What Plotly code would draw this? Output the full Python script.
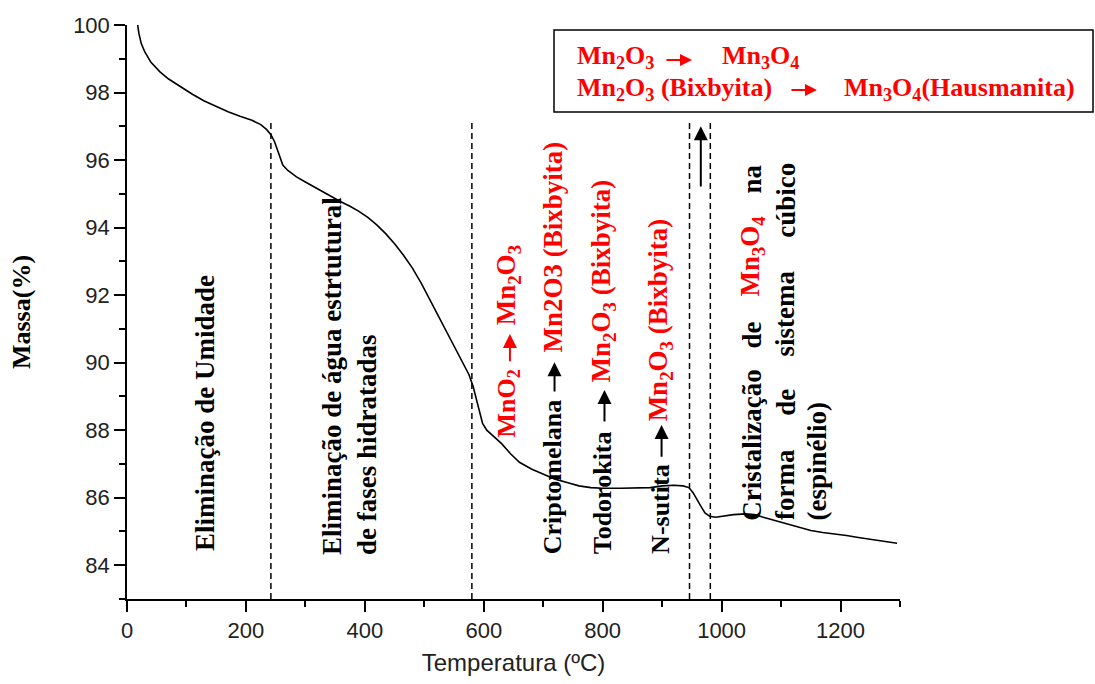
import plotly.graph_objects as go

# ---- data ----
temperature = [18, 20, 24, 30, 40, 55, 70, 90, 110, 130, 150, 170, 190, 210, 225, 235, 242, 248, 255, 262,
               270, 285, 300, 320, 340, 358, 375, 390, 405, 420, 435, 450, 465, 480, 495, 510, 525, 540, 555,
               565, 575, 582, 588, 593, 598, 605, 615, 630, 645, 660, 680, 700, 720, 740, 760, 780, 800, 830,
               860, 880, 900, 920, 935, 945, 952, 958, 965, 972, 980, 990, 1000, 1020, 1040, 1055, 1070, 1090,
               1110, 1130, 1150, 1170, 1190, 1210, 1230, 1250, 1270, 1295]
mass = [100.0, 99.75, 99.45, 99.2, 98.9, 98.62, 98.4, 98.17, 97.95, 97.75, 97.58, 97.43, 97.3, 97.18, 97.05,
        96.9, 96.75, 96.55, 96.2, 95.85, 95.7, 95.5, 95.35, 95.15, 94.95, 94.78, 94.63, 94.48, 94.3, 94.08,
        93.82, 93.52, 93.18, 92.8, 92.35, 91.85, 91.35, 90.85, 90.35, 90.0, 89.65, 89.3, 88.9, 88.5, 88.2,
        88.0, 87.85, 87.6, 87.3, 87.05, 86.85, 86.7, 86.55, 86.45, 86.35, 86.3, 86.28, 86.28, 86.28, 86.3,
        86.35, 86.37, 86.35, 86.3, 86.15, 85.95, 85.75, 85.55, 85.45, 85.42, 85.45, 85.5, 85.52, 85.5,
        85.42, 85.32, 85.22, 85.12, 85.03, 84.97, 84.93, 84.88, 84.82, 84.77, 84.72, 84.65]

boundary_temps = [242, 580, 946, 981]
boundary_top = 97.2

x_ticks = [0, 200, 400, 600, 800, 1000, 1200]
y_ticks = [84, 86, 88, 90, 92, 94, 96, 98, 100]

RED = "#FF0000"
SERIF = "Liberation Serif, Times New Roman, serif"
SANS = "Liberation Sans, Arial, sans-serif"

fig = go.Figure()
fig.add_trace(go.Scatter(x=temperature, y=mass, mode="lines",
                         line=dict(color="black", width=1.6), showlegend=False, hoverinfo="skip"))

for t in boundary_temps:
    fig.add_shape(type="line", xref="x", yref="y", x0=t, x1=t, y0=83, y1=boundary_top,
                  line=dict(color="black", width=1.5, dash="6px,4px"))

# vertical arrow between the last two boundaries
fig.add_annotation(x=965, y=97.0, ax=965, ay=95.17, xref="x", yref="y", axref="x", ayref="y",
                   text="", showarrow=True, arrowhead=2, arrowsize=1.4, arrowwidth=2, arrowcolor="black")

# legend-like box
fig.add_shape(type="rect", xref="paper", yref="paper", x0=0.5524, x1=1.2497, y0=0.8484, y1=0.9913,
              line=dict(color="black", width=1.5), fillcolor="white", layer="above")

box_font = dict(family=SERIF, size=26, color=RED)


def box_text(x, y, text):
    fig.add_annotation(xref="paper", yref="paper", x=x, y=y, xanchor="left", yanchor="middle",
                       showarrow=False, font=box_font, text="<b>" + text + "</b>")


def box_arrow(x, y):
    fig.add_annotation(xref="paper", yref="paper", x=x, y=y, ax=-27, ay=0, text="", showarrow=True,
                       arrowhead=2, arrowsize=1.2, arrowwidth=2, arrowcolor=RED)


box_text(0.5796, 0.944, "Mn<sub>2</sub>O<sub>3</sub>")
box_arrow(0.7309, 0.939)
box_text(0.7671, 0.944, "Mn<sub>3</sub>O<sub>4</sub>")
box_text(0.5796, 0.888, "Mn<sub>2</sub>O<sub>3</sub> (Bixbyita)")
box_arrow(0.8926, 0.8868)
box_text(0.925, 0.888, "Mn<sub>3</sub>O<sub>4</sub>(Hausmanita)")


def vtext(x, y, text, color="black", size=27):
    fig.add_annotation(x=x, y=y, xref="x", yref="y", text="<b>" + text + "</b>", textangle=-90,
                       showarrow=False, xanchor="center", yanchor="bottom", align="left",
                       font=dict(family=SERIF, size=size, color=color))


def varrow(x, tail, head, color="black"):
    fig.add_annotation(x=x, y=head, ax=x, ay=tail, xref="x", yref="y", axref="x", ayref="y",
                       text="", showarrow=True, arrowhead=2, arrowsize=1.4, arrowwidth=2,
                       arrowcolor=color)


vtext(131, 84.36, "Eliminação de Umidade")
vtext(373, 84.24, "Eliminação de água estrtutural<br>de fases hidratadas")

vtext(641, 87.73, "MnO<sub>2</sub>", RED, 26)
varrow(644, 90.0, 90.85, RED)
vtext(641, 91.05, "Mn<sub>2</sub>O<sub>3</sub>", RED)

vtext(716, 84.27, "Criptomelana", size=26)
varrow(719, 89.10, 90.01)
vtext(716, 90.25, "Mn2O3 (Bixbyita)", RED)

vtext(800, 84.27, "Todorokita", size=26)
varrow(803, 88.21, 89.19)
vtext(800, 89.36, "Mn<sub>2</sub>O<sub>3</sub> (Bixbyita)", RED)

vtext(896, 84.27, "N-sutita", size=26)
varrow(899, 87.17, 88.15)
vtext(896, 88.21, "Mn<sub>2</sub>O<sub>3</sub> (Bixbyita)", RED)

# justified block "Cristalização de Mn3O4 na / forma de sistema cúbico / (espinélio)"
vtext(1051, 85.27, "Cristalização")
vtext(1051, 90.37, "de")
vtext(1051, 91.91, "Mn<sub>3</sub>O<sub>4</sub>", RED)
vtext(1051, 94.96, "na")
vtext(1107, 85.27, "forma")
vtext(1107, 88.36, "de")
vtext(1107, 90.13, "sistema")
vtext(1107, 93.63, "cúbico")
vtext(1160, 85.27, "(espinélio)")

fig.update_layout(
    width=1095, height=684,
    margin=dict(l=127, r=195, t=25, b=85),
    paper_bgcolor="white", plot_bgcolor="white",
    font=dict(family=SANS, color="black"),
    xaxis=dict(range=[0, 1300], tickvals=x_ticks, ticks="outside", ticklen=11, tickwidth=1.5,
               tickcolor="black", showline=True, linecolor="black", linewidth=1.5, showgrid=False,
               zeroline=False, tickfont=dict(family=SANS, size=22, color="#222"),
               minor=dict(dtick=100, tick0=0, ticks="outside", ticklen=6, tickwidth=1.5, tickcolor="black"),
               title=dict(text="Temperatura (ºC)", font=dict(family=SANS, size=24, color="#222"), standoff=12)),
    yaxis=dict(range=[83, 100], tickvals=y_ticks, ticks="outside", ticklen=11, tickwidth=1.5,
               tickcolor="black", showline=True, linecolor="black", linewidth=1.5, showgrid=False,
               zeroline=False, tickfont=dict(family=SANS, size=22, color="#222"),
               minor=dict(dtick=1, tick0=83, ticks="outside", ticklen=6, tickwidth=1.5, tickcolor="black"),
               title=dict(text="<b>Massa(%)</b>", font=dict(family=SERIF, size=26, color="black"), standoff=35)),
)

fig.write_html("out.html", config={"displayModeBar": False},
               post_script="document.body.style.margin='0';document.body.style.overflow='hidden';")
